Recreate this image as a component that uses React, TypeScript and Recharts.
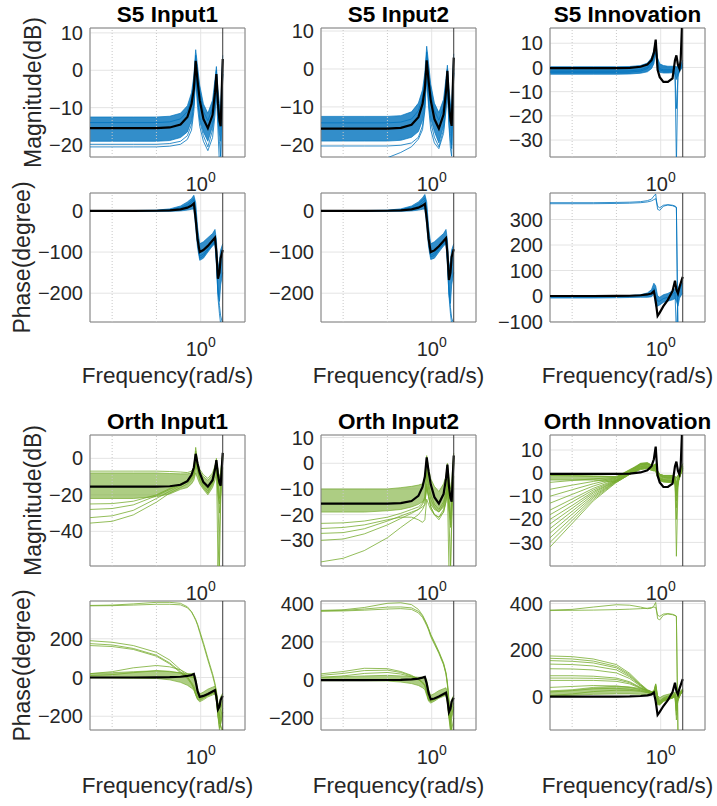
import { Area, CartesianGrid, ComposedChart, Line, ReferenceArea, ReferenceLine, XAxis, YAxis } from "recharts";

// frequency grid (rad/s), shared by every response
const freq = [0.00316, 0.01, 0.03, 0.1, 0.2, 0.35, 0.5, 0.62, 0.7, 0.77, 0.85, 0.95, 1.15, 1.45, 1.85, 2.1, 2.26, 2.45, 2.65, 2.82, 3.14];
const xDomain = [0.00316, 10];
const xTicks = [1];
const minorGrid = [0.01, 0.1];
const nyquist = 3.1416;

// black reference model
const refMag1 = [-15.5, -15.5, -15.5, -15.5, -15.3, -14.5, -12.5, -9, -5, 2.5, -3, -8, -13, -15.5, -12, -6, -1, -9, -13.5, -15, 3];
const refMag2 = [-15.7, -15.7, -15.7, -15.7, -15.5, -14.7, -12.7, -9.2, -5.2, 2.3, -3.2, -8.2, -13.2, -15.7, -12, -6, -0.5, -9, -13.5, -15, 3];
const refMagInn = [-0.3, -0.3, -0.3, -0.3, -0.2, 0.3, 1.2, 3, 6, 11.5, -1, -4, -6, -6, -4.5, 3, 5, 1, -0.5, 3, 25];
const refPh1 = [0, 0, 0, 0.5, 1.5, 4, 8, 13, 18, -20, -70, -100, -95, -85, -72, -65, -100, -165, -150, -115, -95];
const refPh2 = [0, 0, 0, 0.5, 1.5, 4, 8, 13, 17, -18, -68, -100, -96, -86, -73, -66, -102, -168, -150, -112, -93];
const refPhInn = [0, 0, 0, 0.5, 1, 3, 6, 10, 18, -20, -78, -65, -40, -15, 20, 60, 25, 10, 35, 50, 75];

// S5 estimates
const s5Mag1Low = [-19, -19, -19, -19, -18.8, -18, -16.5, -13.5, -9, -1, -8, -13, -16.5, -19, -15, -9, -4, -12, -17, -19, -1];
const s5Mag1High = [-12.5, -12.5, -12.5, -12.5, -12.3, -11.5, -9.5, -6, -1.5, 5.5, 1, -4, -9, -11.5, -8, -2.5, 1, -5, -9, -10, 4];
const s5Mag1A = [-20.5, -20.5, -20.5, -20.5, -20.3, -19.8, -18.5, -16, -11, -2, -10, -15, -19, -21.5, -18, -12, -5, -16, -25, -25, -1];
const s5Mag1B = [-19.8, -19.8, -19.8, -19.8, -19.6, -19, -17.5, -14.5, -9.5, 1, -7.5, -13.5, -17.5, -20.5, -16, -10, -3, -13, -19, -23, 0];
const s5Mag1C = [-14, -14, -14, -14, -13.8, -13, -11, -7.5, -3, 4, -1, -6, -11, -13.5, -10, -4, 0, -7, -12, -13, 3];

const s5Mag2Low = [-19, -19, -19, -19, -18.8, -18, -16.5, -13.5, -9, -1, -8, -13, -16.5, -19.5, -15, -9, -4, -12, -17, -20, -1];
const s5Mag2High = [-12.5, -12.5, -12.5, -12.5, -12.3, -11.3, -9, -5.5, -1, 6, 1.5, -4, -9, -11.5, -8, -2.5, 1, -5, -9, -10, 4];
const s5Mag2A = [-26, -26, -25, -23.4, -22, -20.5, -18.5, -16, -11, -2, -10, -16, -19.5, -21, -17, -11, -5, -15, -21, -23, -1];
const s5Mag2B = [-20.3, -20.3, -20.3, -20.3, -20.1, -19.5, -18, -15, -10, 0, -9, -14, -18, -20.5, -16, -10, -3, -14, -19, -21, 0];
const s5Mag2C = [-14.2, -14.2, -14.2, -14.2, -14, -13.2, -11, -7.5, -3, 4.5, -1, -6, -11, -13.5, -10, -4, 0, -7, -12, -13, 3];

const s5InnLow = [-2.8, -2.8, -2.8, -2.8, -2.7, -2.4, -1.8, -0.5, 1.5, 6, -0.5, -2, -2.3, -2.3, -2.2, -2.5, -5, -3, -1.5, -1, 0];
const s5InnHigh = [0.3, 0.3, 0.3, 0.3, 0.4, 0.8, 1.8, 4, 7, 11, 4, 1.5, 0.8, 0.5, 0.5, 0.5, 0.3, 0.5, 0.5, 1, 3];
const s5InnA = [-1.5, -1.5, -1.5, -1.5, -1.4, -1, 0, 2, 4.5, 9, 1.5, -0.5, -1, -1, -1, -2, -40, -3, -1, 0, 1.5];
const s5InnB = [-2, -2, -2, -2, -1.9, -1.5, -0.5, 1.5, 4, 8, 1, -1, -1.5, -1.5, -1.5, -3, -17, -4, -1.5, -0.5, 1];

const s5Ph1Low = [-1, -1, -1, -1, -1, 0, 2, 4, 5, -40, -90, -120, -115, -100, -85, -80, -130, -200, -220, -180, -150];
const s5Ph1High = [1, 1, 1, 2, 5, 12, 22, 30, 38, 20, -40, -80, -75, -65, -55, -45, -70, -140, -120, -95, -80];
const s5Ph1A = [0, 0, 0, 1, 3, 8, 16, 24, 30, 0, -60, -110, -105, -92, -80, -72, -115, -190, -230, -255, -275];
const s5Ph1B = [0, 0, 0, 0.5, 2, 6, 12, 20, 26, -10, -75, -115, -110, -95, -82, -75, -120, -210, -250, -275, -275];

const s5Ph2Low = [-1, -1, -1, -1, -1, 0, 2, 4, 5, -35, -88, -118, -115, -100, -85, -80, -130, -205, -225, -180, -150];
const s5Ph2High = [1, 1, 1, 2, 5, 12, 22, 32, 40, 22, -38, -80, -75, -65, -55, -45, -70, -140, -120, -95, -80];
const s5Ph2A = [0, 0, 0, 1, 3, 9, 17, 26, 32, 2, -58, -108, -103, -90, -78, -70, -112, -185, -235, -260, -275];
const s5Ph2B = [0, 0, 0, 0.5, 2, 6, 12, 20, 26, -8, -72, -112, -108, -94, -81, -74, -118, -205, -250, -275, -275];

const s5PhInnLow = [-8, -8, -8, -7, -6, -5, -5, -3, 10, -40, -40, -35, -25, -20, -15, -10, -20, -40, -10, 0, 10];
const s5PhInnHigh = [0, 0, 0, 1, 2, 5, 12, 25, 50, 40, 0, -5, 5, 10, 20, 30, 30, 20, 40, 45, 60];
const s5PhInnA = [-3, -3, -3, -2, -1, 1, 4, 12, 30, 0, -20, -20, -10, -5, 5, 15, -150, 0, 20, 35, 50];
const s5PhInnC = [366, 366, 366, 367, 368, 370, 374, 380, 392, 400, 340, 336, 352, 357, 354, 350, 346, -150, -150, -150, -150];
const s5PhInnD = [362, 362, 362, 363, 364, 366, 369, 373, 378, 382, 352, 346, 356, 358, 356, 353, 349, -150, -150, -150, -150];

// Orth estimates
const orMag1Low = [-22, -22, -22, -21, -19.5, -17, -16, -14, -12, -8, -11, -14, -17, -20, -16, -12, -8, -20, -25, -20, -5];
const orMag1High = [-8, -8, -8, -8, -8.3, -8.5, -8.5, -8, -6, 4, -3, -7, -10, -12, -9, -5, -1, -6, -11, -8, 3];
const orMag1L1 = [-35.5, -34.5, -31, -24, -19, -16, -14, -12, -10, -4, -7, -12, -16, -19, -14, -8, -2, -15, -30, -20, 0];
const orMag1L2 = [-32.5, -31.5, -28.5, -22, -18, -15, -13, -11, -9, -2, -6, -11, -15, -18, -13, -7, -1, -20, -59, -25, 1];
const orMag1L3 = [-28, -27.5, -25.5, -20.5, -17, -14.5, -12.5, -10.5, -8, 0, -5, -10, -14, -17, -12, -6, 0, -12, -22, -15, 2];
const orMag1L4 = [-25, -24.8, -23.5, -20, -16.5, -14, -12, -10, -7, 2, -4, -9, -13, -16, -11, -5, -1, -59, -40, -18, 2];
const orMag1L5 = [-7, -7, -7, -7, -7.2, -7.5, -7.8, -7, -5, 6, -2, -6, -9, -11, -8, -4, -2, -6, -11, -8, 3];

const orMag2Low = [-19, -19, -19, -18.5, -18, -17, -16, -15, -14, -10, -13, -16, -18, -19, -17, -13, -9, -18, -22, -18, -5];
const orMag2High = [-10, -10, -10, -10, -9.5, -9, -8.5, -8, -6, 3, -2, -6, -9, -11, -8, -5, 0, -5, -10, -7, 4];
const orMag2L1 = [-38.4, -37, -34, -29, -25, -22, -20, -18, -16, -8, -13, -17, -20, -22, -19, -15, -10, -42, -42, -25, 0];
const orMag2L2 = [-30, -29.5, -27.5, -24, -21.5, -19.5, -18, -16, -14, -4, -10, -14, -17, -19, -16, -12, -6, -15, -25, -15, 2];
const orMag2L3 = [-27.3, -27, -25.5, -22.5, -20.5, -19, -18, -17, -16, -9, -13, -17, -20, -21, -18, -14, -8, -20, -42, -20, 1];
const orMag2L4 = [-23.4, -23.2, -22.5, -21, -19.5, -18, -17, -15.5, -13, -2, -8, -12, -16, -18, -15, -11, -4, -14, -22, -14, 3];
const orMag2L5 = [-25.4, -25, -24, -22, -21, -21, -22, -23, -22, -14, -16, -18, -20, -21, -19, -15, -10, -16, -24, -16, 2];

const orInnLow = [-3, -3, -3, -4, -0.5, 1.5, 2, 1.2, 1, 1, -1.8, -3.2, -3.8, -4, -4, -4.2, -6, -4, -2, -0.5, 1];
const orInnHigh = [-1, -1, -1.2, -1.5, 1.5, 4.2, 4.5, 3.5, 3.5, 4, 1, -0.5, -1, -1, -1, -1.5, -2, -1, 0, 1.5, 4];
const orInnG1 = [-1, -1.2, -1.4, -1.5, 0.5, 2, 2.5, 2, 2.5, 3, 0.5, -0.5, -1, -1, -1, -1.5, -2, -1, 0, 1, 3];
const orInnG2 = [-4, -3.2, -2.5, -1.8, 1, 3, 3.5, 3, 3, 3.5, 0, -1, -1.5, -1.5, -1.5, -2, -5, -2, 0, 1.5, 3.5];
const orInnG3 = [-7, -5.2, -3.6, -2, 1.5, 3.5, 3.8, 3.2, 3.5, 4, 1, -0.5, -1, -1.2, -1.2, -1.5, -36, -6, -1, 1, 4];
const orInnG4 = [-10, -7.2, -4.6, -2.2, 1.2, 3.8, 4, 3.5, 3.2, 3.6, 0.5, -1, -1.5, -1.8, -1.8, -2.2, -8, -3, 0, 1.5, 4];
const orInnG5 = [-13, -9.2, -5.6, -2.5, 1, 4, 4.2, 3.2, 3, 3.2, 0, -1.5, -2, -2, -2, -2.5, -4, -2.5, -0.5, 1, 3];
const orInnG6 = [-16, -11.2, -6.6, -2.8, 0.8, 4.2, 4.5, 3.5, 3.2, 3.8, 0.5, -1, -1.8, -2.2, -2.2, -2.8, -20, -4, -1, 0.5, 3];
const orInnG7 = [-18, -12.5, -7.3, -3, 0.5, 3.8, 4, 3, 2.8, 3, -0.5, -2, -2.5, -2.5, -2.5, -3, -5, -3, -1, 0.5, 2.5];
const orInnG8 = [-20, -14, -8, -3.2, 0.3, 3.5, 3.8, 3, 2.5, 2.5, -0.8, -2.2, -2.8, -3, -3, -3.2, -10, -3.5, -1.5, 0, 2];
const orInnG9 = [-22, -15.2, -8.6, -3.2, 0.2, 3, 3.2, 2.5, 2.2, 2.2, -1, -2.5, -3, -3, -3, -3.5, -6, -3, -1, 0.5, 2.5];
const orInnG10 = [-24, -16.5, -9.3, -3.4, 0, 2.8, 3, 2.2, 2, 2, -1, -2.5, -3, -3.2, -3.2, -3.5, -12, -4, -1.5, 0, 2];
const orInnG11 = [-26, -17.8, -10, -3.5, -0.2, 2.5, 2.8, 2, 1.8, 1.8, -1.2, -2.8, -3.2, -3.5, -3.5, -3.8, -7, -3.5, -1.5, 0, 2];
const orInnG12 = [-28, -19.2, -10.6, -3.6, -0.3, 2.3, 2.6, 1.8, 1.5, 1.5, -1.5, -3, -3.5, -3.5, -3.5, -4, -9, -4, -2, -0.5, 1.5];
const orInnG13 = [-30, -20.5, -11.3, -3.8, -0.5, 2, 2.3, 1.5, 1.2, 1.2, -1.5, -3, -3.5, -3.8, -3.8, -4, -6, -3.5, -2, -0.5, 1.5];
const orInnG14 = [-32, -21.8, -12, -4, -0.5, 1.8, 2, 1.2, 1, 1, -1.8, -3.2, -3.8, -4, -4, -4.2, -15, -4, -2, -0.5, 1];

const orPh1Low = [-2, -3, -4, -5, -12, -25, -40, -55, -65, -90, -110, -120, -110, -95, -85, -80, -120, -200, -271, -240, -180];
const orPh1High = [20, 25, 30, 35, 30, 25, 20, 20, 22, 0, -60, -85, -75, -60, -50, -45, -70, -140, -130, -100, -80];
const orPh1U1 = [372, 374, 380, 388, 388, 383, 365, 340, 318, 300, 275, 240, 180, 100, 20, -30, -70, -140, -200, -245, -280];
const orPh1U2 = [370, 371, 374, 378, 378, 375, 360, 338, 315, 295, 270, 232, 170, 90, 10, -40, -80, -150, -210, -255, -285];
const orPh1M1 = [190, 182, 165, 130, 90, 40, 5, -30, -60, -90, -115, -125, -115, -100, -90, -85, -120, -200, -240, -200, -160];
const orPh1M2 = [175, 168, 150, 115, 75, 30, 0, -25, -45, -70, -100, -110, -100, -90, -80, -75, -110, -180, -200, -160, -120];
const orPh1M3 = [165, 160, 145, 110, 70, 25, -5, -35, -55, -85, -110, -115, -105, -92, -82, -78, -115, -190, -260, -240, -180];
const orPh1N1 = [20, 30, 50, 62, 55, 40, 20, 5, 0, -20, -80, -105, -95, -85, -72, -65, -110, -170, -160, -120, -100];
const orPh1N2 = [10, 15, 25, 35, 32, 22, 10, 0, 0, -15, -75, -100, -92, -82, -70, -63, -100, -160, -150, -110, -95];

const orPh2Low = [-3, -3, -3, -5, -10, -18, -28, -40, -50, -80, -110, -120, -110, -95, -85, -80, -120, -200, -261, -200, -150];
const orPh2High = [15, 18, 22, 25, 22, 18, 15, 15, 18, 0, -50, -80, -70, -55, -45, -40, -70, -140, -130, -100, -80];
const orPh2U1 = [365, 368, 380, 402, 405, 395, 370, 340, 315, 295, 270, 240, 200, 150, 90, 40, -10, -100, -200, -261, -270];
const orPh2U2 = [363, 365, 372, 382, 383, 378, 360, 335, 312, 292, 268, 235, 195, 145, 85, 35, -20, -110, -210, -265, -270];
const orPh2U3 = [360, 362, 366, 372, 374, 370, 352, 328, 305, 285, 262, 228, 188, 140, 80, 30, -25, -120, -220, -270, -270];
const orPh2N1 = [33, 45, 62, 60, 45, 25, 5, -15, -30, -70, -105, -110, -100, -88, -78, -72, -110, -190, -230, -180, -140];
const orPh2N2 = [25, 35, 50, 52, 40, 22, 5, -10, -25, -60, -100, -108, -98, -86, -76, -70, -105, -175, -200, -150, -120];
const orPh2N3 = [15, 22, 35, 40, 32, 18, 2, -12, -28, -65, -102, -112, -102, -90, -80, -74, -112, -185, -261, -261, -200];

const orPhInnLow = [3, 6, 10, 12, 12, 10, 8, 8, 10, 15, -35, -35, -20, -12, -6, 0, -60, -16, 0, 10, 20];
const orPhInnHigh = [25, 30, 40, 45, 42, 35, 28, 22, 25, 55, 5, -5, 5, 10, 15, 20, 15, 5, 15, 25, 35];
const orPhInnU1 = [372, 375, 385, 395, 393, 385, 378, 380, 390, 405, 335, 330, 350, 355, 352, 348, 345, -150, -150, -150, -150];
const orPhInnU2 = [370, 371, 372, 374, 376, 378, 380, 383, 385, 383, 350, 345, 355, 357, 354, 350, 346, -150, -150, -150, -150];
const orPhInnP1 = [175, 172, 162, 138, 100, 55, 30, 22, 22, 35, -20, -30, -15, -8, -2, 5, -80, -10, 5, 15, 25];
const orPhInnP2 = [165, 162, 153, 130, 95, 52, 28, 20, 20, 30, -25, -32, -18, -10, -4, 3, -20, -15, 3, 12, 22];
const orPhInnP3 = [155, 152, 145, 124, 90, 50, 27, 20, 22, 40, -10, -25, -12, -5, 2, 8, -30, -5, 8, 18, 28];
const orPhInnP4 = [140, 138, 132, 115, 85, 48, 26, 18, 20, 45, -15, -28, -14, -6, 0, 6, -100, -8, 6, 16, 26];
const orPhInnP5 = [120, 119, 115, 102, 78, 45, 25, 18, 20, 50, -5, -20, -8, 0, 5, 12, 0, 0, 10, 20, 30];
const orPhInnP6 = [90, 90, 88, 80, 64, 40, 24, 17, 22, 55, 0, -18, -5, 3, 8, 15, -10, 5, 12, 22, 32];
const orPhInnP7 = [80, 80, 79, 74, 60, 38, 23, 16, 20, 40, -12, -24, -10, -3, 3, 10, -60, -5, 8, 18, 28];
const orPhInnP8 = [70, 70, 70, 66, 55, 36, 22, 15, 18, 35, -18, -28, -15, -6, 0, 6, -20, -10, 5, 15, 25];
const orPhInnP9 = [40, 44, 48, 46, 40, 30, 20, 14, 16, 30, -22, -30, -16, -8, -2, 4, -40, -12, 4, 14, 24];
const orPhInnP10 = [20, 26, 34, 36, 32, 26, 18, 13, 15, 25, -25, -32, -18, -10, -4, 2, -15, -14, 2, 12, 22];
const orPhInnP11 = [5, 12, 22, 28, 27, 23, 17, 12, 14, 20, -30, -35, -20, -12, -6, 0, -25, -16, 0, 10, 20];

const BLUE = "#0072BD";
const GREEN = "#77AC30";
const FONT = "'Liberation Sans', Arial, Helvetica, sans-serif";

const colX = [90, 321, 550];
const rowY = [28, 193, 435, 601];
const rowH = [129, 129, 131, 129];
const boxW = 155;

const panels = [
  { col: 0, row: 0, yDomain: [-23.2, 11.3], yTicks: [10, 0, -10, -20], color: BLUE, fillOpacity: 0.8, ref: refMag1, band: [s5Mag1Low, s5Mag1High], lines: [s5Mag1A, s5Mag1B, s5Mag1C] },
  { col: 1, row: 0, yDomain: [-23.2, 10.8], yTicks: [10, 0, -10, -20], color: BLUE, fillOpacity: 0.8, ref: refMag2, band: [s5Mag2Low, s5Mag2High], lines: [s5Mag2A, s5Mag2B, s5Mag2C] },
  { col: 2, row: 0, yDomain: [-37, 16.3], yTicks: [10, 0, -10, -20, -30], color: BLUE, fillOpacity: 0.85, ref: refMagInn, band: [s5InnLow, s5InnHigh], lines: [s5InnA, s5InnB] },
  { col: 0, row: 1, yDomain: [-270, 43.6], yTicks: [0, -100, -200], color: BLUE, fillOpacity: 0.8, ref: refPh1, band: [s5Ph1Low, s5Ph1High], lines: [s5Ph1A, s5Ph1B] },
  { col: 1, row: 1, yDomain: [-270, 43.6], yTicks: [0, -100, -200], color: BLUE, fillOpacity: 0.8, ref: refPh2, band: [s5Ph2Low, s5Ph2High], lines: [s5Ph2A, s5Ph2B] },
  { col: 2, row: 1, yDomain: [-102, 404], yTicks: [300, 200, 100, 0, -100], color: BLUE, fillOpacity: 0.8, ref: refPhInn, band: [s5PhInnLow, s5PhInnHigh], lines: [s5PhInnA, s5PhInnC, s5PhInnD] },
  { col: 0, row: 2, yDomain: [-59, 12.8], yTicks: [0, -20, -40], color: GREEN, fillOpacity: 0.6, ref: refMag1, band: [orMag1Low, orMag1High], lines: [orMag1L1, orMag1L2, orMag1L3, orMag1L4, orMag1L5] },
  { col: 1, row: 2, yDomain: [-40, 11], yTicks: [10, 0, -10, -20, -30], color: GREEN, fillOpacity: 0.6, ref: refMag2, band: [orMag2Low, orMag2High], lines: [orMag2L1, orMag2L2, orMag2L3, orMag2L4, orMag2L5] },
  { col: 2, row: 2, yDomain: [-40.2, 16.5], yTicks: [10, 0, -10, -20, -30], color: GREEN, fillOpacity: 0.6, ref: refMagInn, band: [orInnLow, orInnHigh], lines: [orInnG1, orInnG2, orInnG3, orInnG4, orInnG5, orInnG6, orInnG7, orInnG8, orInnG9, orInnG10, orInnG11, orInnG12, orInnG13, orInnG14] },
  { col: 0, row: 3, yDomain: [-271, 395], yTicks: [200, 0, -200], color: GREEN, fillOpacity: 0.6, ref: refPh1, band: [orPh1Low, orPh1High], lines: [orPh1U1, orPh1U2, orPh1M1, orPh1M2, orPh1M3, orPh1N1, orPh1N2] },
  { col: 1, row: 3, yDomain: [-261, 414], yTicks: [400, 200, 0, -200], color: GREEN, fillOpacity: 0.6, ref: refPh2, band: [orPh2Low, orPh2High], lines: [orPh2U1, orPh2U2, orPh2U3, orPh2N1, orPh2N2, orPh2N3] },
  { col: 2, row: 3, yDomain: [-143, 411], yTicks: [400, 200, 0], color: GREEN, fillOpacity: 0.6, ref: refPhInn, band: [orPhInnLow, orPhInnHigh], lines: [orPhInnU1, orPhInnU2, orPhInnP1, orPhInnP2, orPhInnP3, orPhInnP4, orPhInnP5, orPhInnP6, orPhInnP7, orPhInnP8, orPhInnP9, orPhInnP10, orPhInnP11] },
];

const titles = [
  ["S5 Input1", "S5 Input2", "S5 Innovation"],
  ["Orth Input1", "Orth Input2", "Orth Innovation"],
];

const fmt = (v: number) => (v < 0 ? "\u2212" + Math.abs(v) : String(v));

function PowTick(props: any) {
  const { x, y, payload } = props;
  return (
    <text x={x} y={y + 34} textAnchor="middle" fontSize={20} fill="#262626" fontFamily={FONT}>
      <tspan>10</tspan>
      <tspan dy={-9} fontSize={14}>
        {Math.round(Math.log10(payload.value))}
      </tspan>
    </text>
  );
}

function Panel({ p }: { p: any }) {
  const left = colX[p.col];
  const top = rowY[p.row];
  const h = rowH[p.row];
  const rows = freq.map((w, i) => {
    const row: any = { w, ref: p.ref[i], band: [p.band[0][i], p.band[1][i]] };
    p.lines.forEach((s: number[], k: number) => (row["s" + k] = s[i]));
    return row;
  });
  return (
    <div style={{ position: "absolute", left: left - 80, top: top - 10 }}>
      <ComposedChart width={boxW + 90} height={h + 60} data={rows} margin={{ top: 10, right: 10, bottom: 0, left: 0 }}>
        <CartesianGrid stroke="#e4e4e4" />
        <XAxis dataKey="w" type="number" scale="log" domain={xDomain} allowDataOverflow ticks={xTicks} tick={<PowTick />} tickLine={false} axisLine={false} tickSize={0} tickMargin={0} height={50} />
        <YAxis type="number" domain={p.yDomain} allowDataOverflow ticks={p.yTicks} interval={0} tickFormatter={fmt} width={80} tickLine={false} axisLine={false} tickSize={0} tickMargin={7} tick={{ fontSize: 20, fill: "#262626", fontFamily: FONT }} />
        {minorGrid.map((g) => (
          <ReferenceLine key={g} x={g} stroke="#c8c8c8" strokeDasharray="1 2" />
        ))}
        <Area dataKey="band" type="linear" stroke={p.color} strokeWidth={0.7} fill={p.color} fillOpacity={p.fillOpacity} isAnimationActive={false} dot={false} activeDot={false} />
        {p.lines.map((_: number[], k: number) => (
          <Line key={k} dataKey={"s" + k} type="linear" stroke={p.color} strokeWidth={0.8} dot={false} activeDot={false} isAnimationActive={false} />
        ))}
        <Line dataKey="ref" type="linear" stroke="#000" strokeWidth={2.2} dot={false} activeDot={false} isAnimationActive={false} />
        <ReferenceLine x={nyquist} stroke="#3a3a3a" strokeWidth={1} />
        <ReferenceArea x1={xDomain[0]} x2={xDomain[1]} y1={p.yDomain[0]} y2={p.yDomain[1]} fill="none" stroke="#808080" strokeWidth={1} />
      </ComposedChart>
    </div>
  );
}

export default function App() {
  return (
    <div style={{ position: "absolute", left: 0, top: 0, width: 717, height: 806, background: "#fff", fontFamily: FONT }}>
      <svg width={717} height={806} style={{ position: "absolute", left: 0, top: 0 }}>
        {titles.map((row, r) =>
          row.map((t, c) => (
            <text key={t} x={colX[c] + boxW / 2} y={r === 0 ? 22 : 429} textAnchor="middle" fontSize={22.5} fontWeight="bold" fill="#000" fontFamily={FONT}>
              {t}
            </text>
          ))
        )}
        {[0, 2].map((r) => (
          <text key={"m" + r} transform={`translate(41, ${rowY[r] + rowH[r] / 2}) rotate(-90)`} textAnchor="middle" fontSize={23} fill="#262626" fontFamily={FONT}>
            Magnitude(dB)
          </text>
        ))}
        {[1, 3].map((r) => (
          <text key={"p" + r} transform={`translate(30, ${rowY[r] + rowH[r] / 2}) rotate(-90)`} textAnchor="middle" fontSize={23} fill="#262626" fontFamily={FONT}>
            Phase(degree)
          </text>
        ))}
        {[1, 3].map((r) =>
          colX.map((x) => (
            <text key={"f" + r + x} x={x + boxW / 2} y={r === 1 ? 383 : 793} textAnchor="middle" fontSize={22.5} fill="#262626" fontFamily={FONT}>
              Frequency(rad/s)
            </text>
          ))
        )}
      </svg>
      {panels.map((p, i) => (
        <Panel key={i} p={p} />
      ))}
    </div>
  );
}
